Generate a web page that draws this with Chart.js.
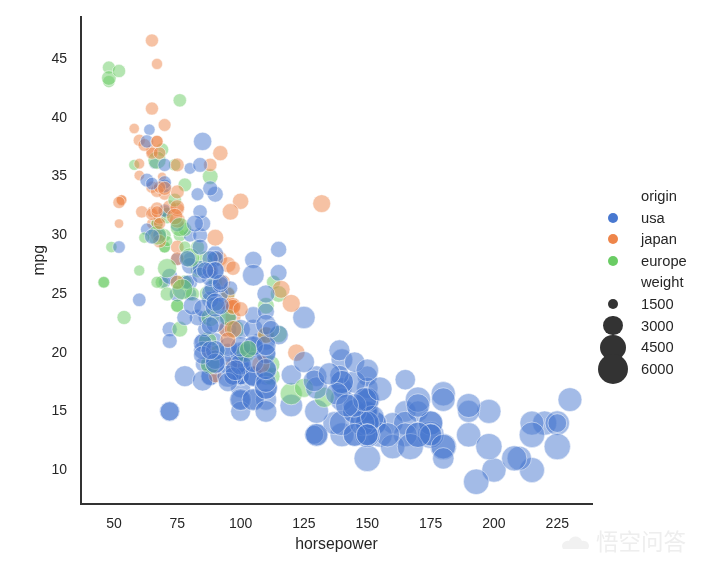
<!DOCTYPE html>
<html>
<head>
<meta charset="utf-8">
<script src="https://cdn.jsdelivr.net/npm/chart.js@4"></script>
<style>
html,body{margin:0;padding:0;background:#fff;}
#wrap{position:relative;width:702px;height:566px;overflow:hidden;font-family:"Liberation Sans",Arial,sans-serif;color:#262626;}
canvas{position:absolute;left:0;top:0;}
.lg{position:absolute;left:641px;font-size:14.7px;line-height:16px;height:16px;white-space:nowrap;}
.dot{position:absolute;border-radius:50%;}
#mark{position:absolute;left:596px;top:525px;font-family:"Noto Sans CJK SC";font-size:22.5px;line-height:30px;color:#eeeeee;white-space:nowrap;}
#cloud{position:absolute;left:560px;top:534px;}
</style>
</head>
<body>
<div id="wrap">
<canvas id="chart" width="702" height="566"></canvas>
<svg id="cloud" width="32" height="20"><path d="M3 15c-3-5 2-9 6-8 2-6 11-6 13 0 5-1 9 4 6 8z" fill="#f1f1f1"/></svg>
<div id="mark">悟空问答</div>
</div>
<script>
// mpg data, same order as the table so the overlaps stack the same way
const horsepower=[
130,165,150,150,140,198,220,215,225,190,
170,160,150,225,95,95,97,85,88,46,
87,90,95,113,90,215,200,210,193,88,
90,95,100,105,100,88,100,165,175,153,
150,180,170,175,110,72,100,88,86,90,
70,76,65,69,60,70,95,80,54,90,
86,165,175,150,153,150,208,155,160,190,
97,150,130,140,150,112,76,87,69,86,
92,97,80,88,175,150,145,137,150,198,
150,158,150,215,225,175,105,100,100,88,
95,46,150,167,170,180,100,88,72,94,
90,85,107,90,145,230,49,75,91,112,
150,110,122,180,95,100,100,67,80,65,
75,100,110,105,140,150,150,140,150,83,
67,78,52,61,75,75,75,97,93,67,
95,105,72,72,170,145,150,148,110,105,
110,95,110,110,129,75,83,100,78,96,
71,97,97,70,90,95,88,98,115,53,
86,81,92,79,83,140,150,120,152,100,
105,81,90,52,60,70,53,100,78,110,
95,71,70,75,72,102,150,88,108,120,
180,145,130,150,68,80,58,96,70,145,
110,145,130,110,105,100,98,180,170,190,
149,78,88,75,89,63,83,67,78,97,
110,110,48,66,52,70,60,110,140,139,
105,95,85,88,100,90,105,85,110,120,
145,165,139,140,68,95,97,75,95,105,
85,97,103,125,115,133,71,68,115,85,
88,90,110,130,129,138,135,155,142,125,
150,71,65,80,80,77,125,71,90,70,
70,65,69,90,115,115,90,76,60,70,
65,90,88,90,90,78,90,75,92,75,
65,105,65,48,48,67,67,67,67,62,
132,100,88,72,84,84,92,110,84,58,
64,60,67,65,62,68,63,65,65,74,
75,75,100,74,80,76,116,120,110,105,
88,85,88,88,88,85,84,90,92,74,
68,68,63,70,88,75,70,67,67,67,
110,85,92,112,96,84,90,86,52,84,
79,82];
const mpg=[
18,15,18,16,17,15,14,14,14,15,
15,14,15,14,24,22,18,21,27,26,
25,24,25,26,21,10,10,11,9,27,
28,25,19,16,17,19,18,14,14,14,
14,12,13,13,18,22,19,18,23,28,
30,30,31,35,27,26,24,25,23,20,
21,13,14,15,14,17,11,13,12,13,
19,15,13,13,14,18,22,21,26,22,
28,23,28,27,13,14,13,14,15,12,
13,13,14,13,12,13,18,16,18,18,
23,26,11,12,13,12,18,20,21,22,
18,19,21,26,15,16,29,24,20,19,
15,24,20,11,20,19,15,31,26,32,
25,16,16,18,16,13,14,14,14,29,
26,26,31,32,28,24,26,24,26,31,
19,18,15,15,16,15,16,14,17,16,
15,18,21,20,13,29,23,20,23,24,
25,24,18,29,19,23,23,22,25,33,
28,25,25,26,27,17.5,16,15.5,14.5,22,
22,24,22.5,29,24.5,29,33,20,18,18.5,
17.5,29.5,32,28,26.5,20,13,19,19,16.5,
16.5,13,13,13,31.5,30,36,25.5,33.5,17.5,
17,15.5,15,17.5,20.5,19,18.5,16,15.5,15.5,
16,29,24.5,26,25.5,30.5,33.5,30,30.5,22,
21.5,21.5,43.1,36.1,32.8,39.4,36.1,19.9,19.4,20.2,
19.2,20.5,20.2,25.1,20.5,19.4,20.6,20.8,18.6,18.1,
19.2,17.7,18.1,17.5,30,27.5,27.2,30.9,21.1,23.2,
23.8,23.9,20.3,17,21.6,16.2,31.5,29.5,21.5,19.8,
22.3,20.2,20.6,17,17.6,16.5,18.2,16.9,15.5,19.2,
18.5,31.9,34.1,35.7,27.4,25.4,23,27.2,23.9,34.2,
34.5,31.8,37.3,28.4,28.8,26.8,33.5,41.5,38.1,32.1,
37.2,28,26.4,24.3,19.1,34.3,29.8,31.3,37,32.2,
46.6,27.9,40.8,44.3,43.4,36.4,30,44.6,33.8,29.8,
32.7,23.7,35,32.4,27.2,26.6,25.8,23.5,30,39.1,
39,35.1,32.3,37,37.7,34.1,34.7,34.4,29.9,33,
33.7,32.4,32.9,31.6,28.1,30.7,25.4,24.2,22.4,26.6,
20.2,17.6,28,27,34,31,29,27,24,36,
37,31,38,36,36,36,34,38,32,38,
25,38,26,22,32,36,27,27,44,32,
28,31];
const weight=[
3504,3693,3436,3433,3449,4341,4354,4312,4425,3850,
3563,3609,3761,3086,2372,2833,2774,2587,2130,1835,
2672,2430,2375,2234,2648,4615,4376,4382,4732,2130,
2264,2228,2634,3439,3329,3302,3288,4209,4464,4154,
4096,4955,4746,5140,2962,2408,3282,3139,2220,2123,
2074,2065,1773,1613,1834,1955,2278,2126,2254,2408,
2226,4274,4385,4135,4129,3672,4633,4502,4456,4422,
2330,3892,4098,4294,4077,2933,2511,2979,2189,2395,
2288,2506,2164,2100,4100,3672,3988,4042,3777,4952,
4464,4363,4237,4735,4951,3821,3121,3278,2945,3021,
2904,1950,4997,4906,4654,4499,2789,2279,2401,2379,
2124,2310,2472,2265,4082,4278,1867,2158,2582,2868,
3399,2660,2807,3664,3102,2901,3336,1950,2451,1836,
2542,3781,3632,3613,4141,4699,4457,4638,4257,2219,
1963,2300,1649,2003,2125,2108,2246,2489,2391,2000,
3264,3459,3432,3158,4668,4440,4498,4657,3907,3897,
3730,3785,3039,3221,3169,2171,2639,2914,2592,2702,
2223,2545,2984,1937,3211,2694,2957,2945,2671,1795,
2464,2220,2572,2255,2202,4215,4190,3962,4215,3233,
3353,3012,3085,2035,2164,1937,1795,3651,3574,3645,
3193,1825,1990,2155,2565,3150,3940,3270,2930,3820,
4380,4055,3870,3755,2045,2155,1825,2300,1945,3880,
4060,4140,4295,3520,3425,3630,3525,4220,4165,4325,
4335,1940,2740,2265,2755,2051,2075,1985,2190,2815,
2600,2720,1985,1800,1985,2070,1800,3365,3735,3570,
3535,3155,2965,2720,3430,3210,3380,3070,3620,3410,
3425,3445,3205,4080,2155,2560,2300,2230,2515,2745,
2855,2405,2830,3140,2795,3410,1990,2135,3245,2990,
2890,3265,3360,3840,3725,3955,3830,4360,4054,3605,
3940,1925,1975,1915,2670,3530,3900,3190,3420,2200,
2150,2020,2130,2670,2595,2700,2556,2144,1968,2120,
2019,2678,2870,3003,3381,2188,2711,2542,2434,2265,
2110,2800,2110,2085,2335,2950,3250,1850,2145,1845,
2910,2420,2500,2290,2490,2635,2620,2725,2385,1755,
1875,1760,2065,1975,2050,1985,2215,2045,2380,2190,
2210,2350,2615,2635,3230,3160,2900,2930,3415,3725,
3060,3465,2605,2640,2395,2575,2525,2735,2865,1980,
2025,1970,2125,2125,2160,2205,2245,1965,1965,1995,
2945,3015,2585,2835,2665,2370,2950,2790,2130,2295,
2625,2720];
// index into origins
const originOf=[
0,0,0,0,0,0,0,0,0,0,
0,0,0,0,1,0,0,0,1,2,
2,2,2,2,0,0,0,0,0,1,
0,1,0,0,0,0,0,0,0,0,
0,0,0,0,0,0,0,0,0,2,
2,2,1,1,2,0,1,0,2,0,
0,0,0,0,0,0,0,0,0,0,
1,0,0,0,0,2,2,2,2,0,
1,1,0,1,0,0,0,0,0,0,
0,0,0,0,0,0,0,0,0,0,
0,2,0,0,0,0,0,1,0,1,
1,0,0,2,0,0,2,2,2,2,
0,2,1,0,0,0,0,1,0,1,
0,0,0,0,0,0,0,0,0,2,
2,2,1,1,0,2,2,1,1,2,
0,0,0,0,0,0,0,0,0,0,
0,0,0,0,0,1,0,0,0,1,
2,1,0,2,0,2,2,2,2,1,
2,2,0,0,2,0,0,0,0,0,
0,0,0,0,0,2,1,0,0,0,
0,2,1,1,0,2,0,2,1,2,
0,0,0,0,1,0,2,0,1,0,
0,0,0,0,0,0,0,0,0,0,
0,2,0,1,0,0,0,1,2,1,
2,1,2,0,1,1,1,0,0,0,
0,0,0,0,0,0,0,0,0,0,
0,0,0,0,0,1,1,0,1,0,
0,1,2,2,2,2,2,1,0,0,
0,0,0,0,0,0,0,0,0,0,
0,2,1,0,0,2,0,2,0,0,
0,1,2,0,0,0,0,2,1,0,
1,0,0,0,0,2,1,1,1,1,
1,0,1,2,2,2,2,1,1,2,
1,1,2,1,0,0,0,0,0,1,
0,1,1,1,1,1,0,0,0,2,
1,1,1,1,2,2,1,1,0,0,
0,0,0,0,0,0,0,0,0,2,
1,1,0,0,1,1,1,1,1,1,
0,0,0,0,1,0,0,0,2,0,
0,0];

const origins=['usa','japan','europe'];
const originColors=['72,120,208','238,133,74','106,204,100'];
const weightLegend=[1500,3000,4500,6000];
const xTicks=[50,75,100,125,150,175,200,225];
const yTicks=[10,15,20,25,30,35,40,45];

// area grows linearly with weight
function radiusFor(w){
    return Math.sqrt(0.046*w-54);
}

const grafik=document.querySelector('#chart').getContext('2d');
const tickFont={family:'"Liberation Sans"',size:14};
const titleFont={family:'"Liberation Sans"',size:15.8};

new Chart(grafik,{
type:'bubble',
data:{
    datasets:[{
        data:horsepower.map((hp,i)=>({x:hp,y:mpg[i],r:radiusFor(weight[i])})),
        backgroundColor:ctx=>'rgba('+originColors[originOf[ctx.dataIndex]]+',0.5)',
        borderColor:'rgba(255,255,255,0.5)',
        borderWidth:1
    }]
},
options:{
    responsive:false,
    animation:false,
    layout:{padding:{top:17,right:110,left:0,bottom:0}},
    plugins:{legend:{display:false},tooltip:{enabled:false}},
    scales:{
        x:{
            type:'linear',min:37,max:238.7,
            afterBuildTicks:s=>{s.ticks=xTicks.map(v=>({value:v}))},
            afterFit:s=>{s.height=62.5;s.paddingLeft=0;s.paddingRight=0},
            grid:{display:false,drawTicks:false},
            border:{display:true,color:'#333333',width:2},
            ticks:{color:'#262626',font:tickFont,padding:12,maxRotation:0,autoSkip:false},
            title:{display:true,text:'horsepower',color:'#262626',font:titleFont,padding:{top:0,bottom:12}}
        },
        y:{
            type:'linear',min:7.15,max:48.6,
            afterBuildTicks:s=>{s.ticks=yTicks.map(v=>({value:v}))},
            afterFit:s=>{s.width=81;s.paddingTop=0;s.paddingBottom=0},
            grid:{display:false,drawTicks:false},
            border:{display:true,color:'#333333',width:2},
            ticks:{color:'#262626',font:tickFont,padding:14,autoSkip:false},
            title:{display:true,text:'mpg',color:'#262626',font:titleFont,padding:{top:30,bottom:0}}
        }
    }
}
});

// legend next to the plot
const wrap=document.querySelector('#wrap');
function addText(text,y){
    const d=document.createElement('div');
    d.className='lg';
    d.textContent=text;
    d.style.top=(y-8)+'px';
    wrap.appendChild(d);
}
function addDot(y,r,color){
    const d=document.createElement('div');
    d.className='dot';
    d.style.left=(613-r)+'px';
    d.style.top=(y-r)+'px';
    d.style.width=(2*r)+'px';
    d.style.height=(2*r)+'px';
    d.style.background=color;
    wrap.appendChild(d);
}
addText('origin',196);
origins.forEach((name,i)=>{
    const y=217.5+i*21.7;
    addDot(y,5,'rgb('+originColors[i]+')');
    addText(name,y);
});
addText('weight',282);
weightLegend.forEach((w,i)=>{
    const y=304+i*21.7;
    addDot(y,Math.max(5,radiusFor(w)+0.5),'#333333');
    addText(String(w),y);
});
</script>
</body>
</html>
